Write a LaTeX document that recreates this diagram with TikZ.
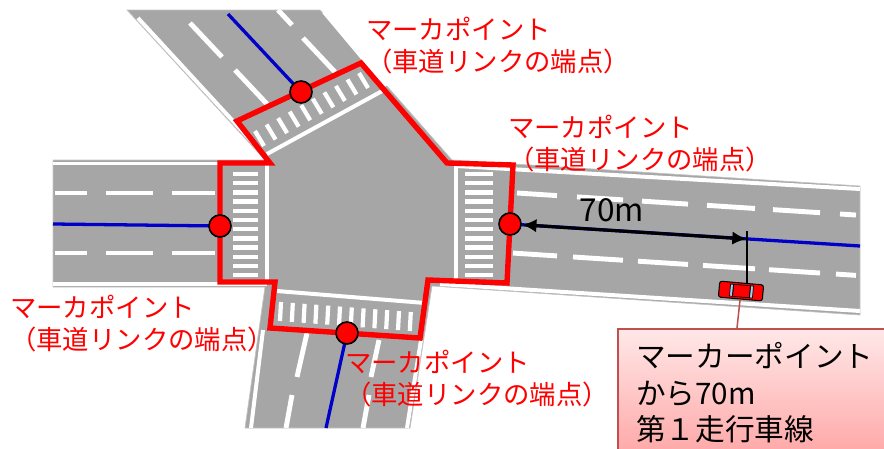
\documentclass[tikz,border=0pt]{standalone}
\usepackage{fontspec}
\setmainfont{Noto Sans CJK JP}
\usetikzlibrary{arrows.meta}
\definecolor{road}{HTML}{A6A6A6}
\definecolor{roadedge}{HTML}{C4C4C4}
\definecolor{linkblue}{HTML}{0000C8}
\definecolor{markred}{HTML}{FF0000}
\definecolor{callborder}{HTML}{C0504D}
\definecolor{calltop}{HTML}{FFE8E8}
\definecolor{callbottom}{HTML}{FFA0A0}
\definecolor{glass}{HTML}{9DD3F5}

\begin{document}
\begin{tikzpicture}[x=0.03cm,y=-0.03cm,>={Latex[length=4.4mm,width=4mm]},
  whiteline/.style={white,line width=3.4pt},
  lanedash/.style={white,line width=4.2pt},
  stripe/.style={white,line width=3.6pt},
  linkline/.style={linkblue,line width=2.8pt},
  boundary/.style={markred,line width=4.6pt,line join=miter},
  marker/.style={circle,draw=black,fill=markred,line width=1.4pt,minimum size=0.66cm,inner sep=0pt},
  pointlabel/.style={markred,font=\fontsize{22.5}{27.3}\selectfont,align=left,anchor=west,inner sep=0pt},
  dimarrow/.style={<->,line width=2.7pt},
  carbody/.style={draw=black,fill=markred,line width=0.9pt,rounded corners=2pt,minimum width=1.32cm,minimum height=0.48cm,inner sep=0pt},
  callbox/.style={draw=callborder,line width=1.3pt,top color=calltop,bottom color=callbottom,anchor=north west,minimum width=8.6cm,minimum height=4.2cm,inner sep=0pt},
  calltext/.style={font=\fontsize{25.3}{31.2}\selectfont,align=left,anchor=west,inner sep=0pt}]
\useasboundingbox (0,0) rectangle (884,449);
\begin{scope}
\clip (0,0) rectangle (884,449);

% road surface
\filldraw[fill=road,draw=roadedge,line width=0.6pt] (127,10) -- (320,10) -- (452,160) -- (860,186) -- (860,315) -- (432,286) -- (410,428) -- (245,428) -- (265,287) -- (53,287) -- (53,160) -- (265,160) -- cycle;

% edge lines
\draw[whiteline] (138,18) -- (267,158);
\draw[whiteline] (324,12) -- (386,86);
\draw[whiteline] (267,154) -- (384,90);
\draw[whiteline] (53,163.5) -- (268,163.5);
\draw[whiteline] (53,284) -- (267,284);
\draw[whiteline] (267,163) -- (267,284);
\draw[whiteline] (456,166) -- (860,189);
\draw[whiteline] (440,284) -- (860,311);
\draw[whiteline] (456,166) -- (456,284);
\draw[whiteline] (277,291) -- (425,303);
\draw[whiteline] (263,330) -- (251,428);
\draw[whiteline] (421,340) -- (407,428);

% lane dashes
\foreach \a/\b in {55/87,106/153,172/215}{
  \draw[lanedash] (\a,193) -- (\b,193);
  \draw[lanedash] (\a,253) -- (\b,253);
}
\foreach \a/\b in {517/557,577/623,642/688,707/755,773/820,840/856}{
  \draw[lanedash] (\a,{193+0.065*(\a-517)}) -- (\b,{193+0.065*(\b-517)});
  \draw[lanedash] (\a-4,{253+0.065*(\a-516)}) -- (\b,{253+0.065*(\b-512)});
}
\draw[lanedash] (190,23) -- (222,57);
\draw[lanedash] (235,70) -- (267,104);
\draw[lanedash] (278,10) -- (292,25);
\draw[lanedash] (303,38) -- (335,72);
\draw[lanedash] (307,333) -- (297,377);
\draw[lanedash] (292,395) -- (286,428);
\draw[lanedash] (379,340) -- (371,377);
\draw[lanedash] (369,395) -- (363,428);

% crosswalks
\foreach \i in {0,...,11}{
  \draw[stripe] (233,{174+9.2*\i}) -- (258,{174+9.2*\i});
  \draw[stripe] (465,{174+9.2*\i}) -- (493,{174+9.2*\i});
  \draw[stripe] ({281+11.8*\i},{302+0.077*11.8*\i}) -- ({280+11.8*\i},{321+0.077*11.8*\i});
}
\foreach \i in {0,...,9}
  \draw[stripe] ({255+11.56*\i},{131-6.44*\i}) -- ++(9,15);

% road links
\coordinate (pTop) at (301,92);
\coordinate (pLeft) at (220,226);
\coordinate (pRight) at (510,224);
\coordinate (pBottom) at (347,333);
\coordinate (topEnd) at (228,14);
\coordinate (leftEnd) at (53,224);
\coordinate (rightEnd) at (860,246);
\coordinate (bottomEnd) at (326,428);
\draw[linkline] (topEnd) -- (pTop);
\draw[linkline] (leftEnd) -- (pLeft);
\draw[linkline] (pRight) -- (rightEnd);
\draw[linkline] (pBottom) -- (bottomEnd);

% intersection boundary
\draw[boundary] (237,121) -- (361,63) -- (447,163) -- (513,165) -- (507,283) -- (428,280) -- (420,338) -- (270,328) -- (275,282) -- (220,282) -- (220,163) -- (270,163) -- cycle;

\node[marker] (mTop) at (pTop) {};
\node[marker] (mLeft) at (pLeft) {};
\node[marker] (mRight) at (pRight) {};
\node[marker] (mBottom) at (pBottom) {};

% 70 m from the marker
\coordinate (tick) at (747,239);
\draw[dimarrow] (mRight) -- (tick);
\node[font=\fontsize{27}{30}\selectfont,inner sep=0pt] (dist) at (612,210) {70m};
\draw[line width=1.8pt] (747,231) -- (747,250);

% car
\node[carbody,rotate=-5] (car) at (741,291) {};
\begin{scope}[shift={(car.center)},rotate=-5]
  \fill[glass] (-11,-6) rectangle (-8,6);
  \fill[glass] (9,-6) rectangle (12,6);
  \draw[black,line width=0.6pt] (-8,-6) rectangle (9,6);
  \draw[black,line width=0.6pt] (-11,-6) rectangle (-8,6);
  \draw[black,line width=0.6pt] (9,-6) rectangle (12,6);
\end{scope}
\draw[line width=1pt] (tick) -- (tick |- car.north);

% callout
\node[callbox] (callout) at (617,328) {};
\coordinate (pin) at (737,328);
\draw[callborder,line width=1.3pt] (car) -- (pin);
\node[calltext] (callTxt) at (636,393) {マーカーポイント\\から70m\\第１走行車線};
\end{scope}

% labels
\node[pointlabel] (lblTop) at (366,46) {マーカポイント\\（車道リンクの端点）};
\node[pointlabel] (lblRight) at (508,144) {マーカポイント\\（車道リンクの端点）};
\node[pointlabel] (lblLeft) at (10,324) {マーカポイント\\（車道リンクの端点）};
\node[pointlabel] (lblBottom) at (345,379) {マーカポイント\\（車道リンクの端点）};
\end{tikzpicture}
\end{document}
